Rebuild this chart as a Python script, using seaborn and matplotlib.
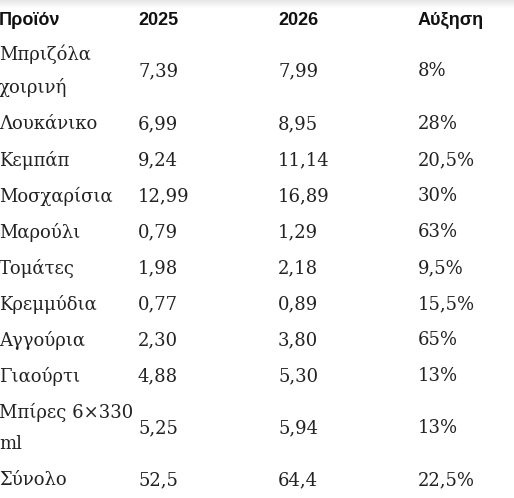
import matplotlib
matplotlib.use("Agg")
import matplotlib.pyplot as plt
import seaborn as sns

sns.set_theme(style="white")

headers = ["Προϊόν", "2025", "2026", "Αύξηση"]
products = ["Μπριζόλα\nχοιρινή", "Λουκάνικο", "Κεμπάπ", "Μοσχαρίσια", "Μαρούλι",
            "Τομάτες", "Κρεμμύδια", "Αγγούρια", "Γιαούρτι", "Μπίρες 6×330\nml", "Σύνολο"]
price_2025 = ["7,39", "6,99", "9,24", "12,99", "0,79", "1,98", "0,77", "2,30", "4,88", "5,25", "52,5"]
price_2026 = ["7,99", "8,95", "11,14", "16,89", "1,29", "2,18", "0,89", "3,80", "5,30", "5,94", "64,4"]
increase = ["8%", "28%", "20,5%", "30%", "63%", "9,5%", "15,5%", "65%", "13%", "13%", "22,5%"]

col_x = [-1, 138, 278, 418]
row_y = [71, 124, 160, 196, 232, 268, 304, 340, 376, 428, 480]

fig = plt.figure(figsize=(5.14, 4.98), dpi=100)
ax = fig.add_axes([0, 0, 1, 1])
ax.set_xlim(0, 514)
ax.set_ylim(498, 0)
ax.axis("off")

# faint shadow at the top
for i in range(8):
    ax.axhspan(i, i + 1, color="#000000", alpha=0.012 * (8 - i), lw=0)

for x, h in zip(col_x, headers):
    ax.text(x, 20, h, fontsize=13, fontweight="bold", color="#111111",
            family=["Liberation Sans", "DejaVu Sans"], va="center", ha="left")

for i, y in enumerate(row_y):
    cells = [products[i], price_2025[i], price_2026[i], increase[i]]
    for x, c in zip(col_x, cells):
        ax.text(x, y, c, fontsize=13, color="#222222", family=["DejaVu Serif"],
                va="center", ha="left", linespacing=1.95)

fig.savefig("out.png", dpi=100)
